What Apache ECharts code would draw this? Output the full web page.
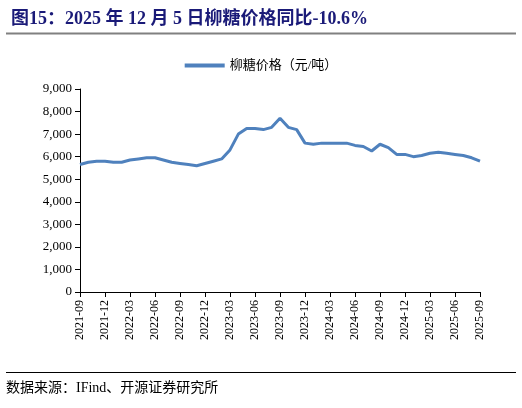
<!DOCTYPE html>
<html><head><meta charset="utf-8">
<script src="https://cdn.jsdelivr.net/npm/echarts@6/dist/echarts.min.js"></script>
<style>html,body{margin:0;padding:0;background:#fff}#c{width:522px;height:408px}</style>
</head><body><div id="c"></div>
<script>
const categories = [];
for (let y = 2021, m = 9; y < 2025 || (y === 2025 && m <= 9); ) {
  categories.push(y + '-' + String(m).padStart(2, '0'));
  m++; if (m > 12) { m = 1; y++; }
}
const sugarPrice = [5650,5750,5800,5800,5750,5750,5850,5900,5950,5950,5850,5750,5700,5650,5600,5700,5800,5900,6300,7000,7250,7250,7200,7300,7700,7300,7200,6600,6550,6600,6600,6600,6600,6500,6450,6250,6550,6400,6100,6100,6000,6050,6150,6200,6150,6100,6050,5950,5800];
const yTicks = [0,1000,2000,3000,4000,5000,6000,7000,8000,9000];
const chart = echarts.init(document.getElementById('c'));
const serif = '"Liberation Serif","Noto Sans CJK SC",serif';
chart.setOption({
  animation:false,
  title:{text:'图15：2025 年 12 月 5 日柳糖价格同比-10.6%',left:6,top:5,
    textStyle:{fontFamily:serif,fontSize:18,fontWeight:'bold',color:'#1a1a78'}},
  graphic:[
    {type:'line',shape:{x1:6,y1:33.5,x2:516,y2:33.5},style:{stroke:'#808080',lineWidth:2}},
    {type:'line',shape:{x1:6,y1:372.5,x2:516,y2:372.5},style:{stroke:'#000',lineWidth:1}},
    {type:'text',left:6,top:381,style:{text:'数据来源：IFind、开源证券研究所',font:'14px '+serif,fill:'#000'}}
  ],
  legend:{top:54,left:'center',itemWidth:40,itemHeight:4,icon:'rect',
    textStyle:{fontFamily:serif,fontSize:13,color:'#000'},data:['柳糖价格（元/吨）']},
  grid:{left:80,right:42,top:89,bottom:116},
  xAxis:{type:'category',data:categories,boundaryGap:false,
    axisLine:{lineStyle:{color:'#000'}},axisTick:{interval:2,alignWithLabel:true},
    axisLabel:{interval:2,rotate:90,fontFamily:serif,fontSize:12,color:'#000'}},
  yAxis:{type:'value',min:yTicks[0],max:yTicks[yTicks.length-1],interval:1000,
    splitLine:{show:false},axisLine:{show:true,lineStyle:{color:'#000'}},axisTick:{show:true},
    axisLabel:{fontFamily:serif,fontSize:13,color:'#000',formatter:v=>v.toLocaleString('en-US')}},
  series:[{name:'柳糖价格（元/吨）',type:'line',data:sugarPrice,showSymbol:false,
    lineStyle:{color:'#4f81bd',width:3},itemStyle:{color:'#4f81bd'}}]
});
</script></body></html>
